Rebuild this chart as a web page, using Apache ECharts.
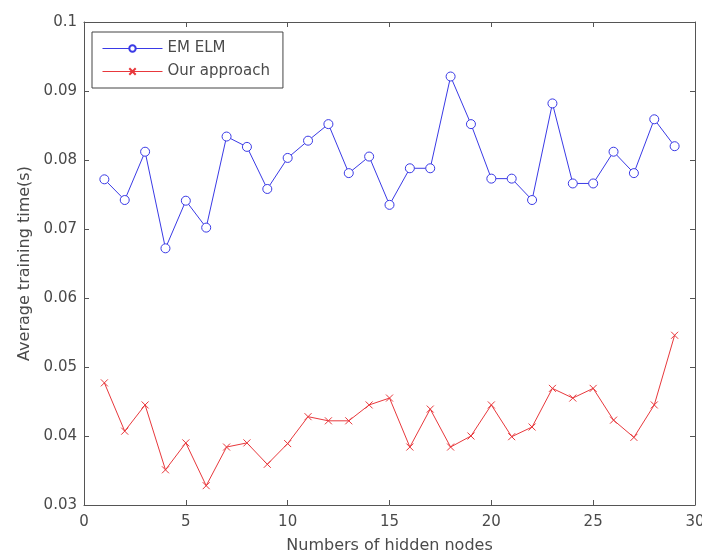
<!DOCTYPE html>
<html>
<head>
<meta charset="utf-8">
<script src="https://cdn.jsdelivr.net/npm/echarts@6/dist/echarts.min.js"></script>
<style>html,body{margin:0;padding:0;background:#fff}#c{width:702px;height:556px}</style>
</head>
<body>
<div id="c"></div>
<script>
const hiddenNodes = [1,2,3,4,5,6,7,8,9,10,11,12,13,14,15,16,17,18,19,20,21,22,23,24,25,26,27,28,29];
const emElm = [0.0772,0.0742,0.0812,0.0672,0.0741,0.0702,0.0834,0.0819,0.0758,0.0803,0.0828,0.0852,0.0781,0.0805,0.0735,0.0788,0.0788,0.0921,0.0852,0.0773,0.0773,0.0742,0.0882,0.0766,0.0766,0.0812,0.0781,0.0859,0.0820];
const ourApproach = [0.0477,0.0407,0.0445,0.0351,0.0390,0.0328,0.0384,0.0390,0.0359,0.0389,0.0428,0.0422,0.0422,0.0445,0.0455,0.0384,0.0439,0.0384,0.0400,0.0445,0.0399,0.0413,0.0469,0.0455,0.0469,0.0423,0.0398,0.0445,0.0546];
const seriesNames = ['EM ELM','Our approach'];
const xTitle = 'Numbers of hidden nodes';
const yTitle = 'Average training time(s)';

const FONT = 'DejaVu Sans';
const textColor = '#4a4a4a';
const blue = '#3a3ae6';
const red = '#e8383c';
const chart = echarts.init(document.getElementById('c'));
const axisLine = {show:true, onZero:false, lineStyle:{color:'#555', width:1}};
const tickIn = {show:true, inside:true, length:5, lineStyle:{color:'#555'}};
chart.setOption({
  animation:false,
  backgroundColor:'#fff',
  grid:{left:84, right:7, top:22, bottom:51, containLabel:false, outerBoundsMode:'none'},
  legend:{
    show:true, orient:'vertical', left:92, top:32,
    backgroundColor:'#fff', borderColor:'#444', borderWidth:1, borderRadius:0,
    padding:[9,13,9,10], itemGap:8, itemWidth:60, itemHeight:8,
    lineStyle:{width:1},
    textStyle:{fontFamily:FONT, fontSize:15, color:textColor},
    data:seriesNames
  },
  xAxis:[{
    type:'value', min:0, max:30, interval:5, position:'bottom',
    axisLine:axisLine, axisTick:tickIn, splitLine:{show:false},
    axisLabel:{fontFamily:FONT, fontSize:15, color:textColor, margin:10},
    name:xTitle, nameLocation:'middle', nameGap:33,
    nameTextStyle:{fontFamily:FONT, fontSize:16, color:textColor}
  },{
    type:'value', min:0, max:30, interval:5, position:'top',
    axisLine:axisLine, axisTick:tickIn, axisLabel:{show:false}, splitLine:{show:false}
  }],
  yAxis:[{
    type:'value', min:0.03, max:0.1, interval:0.01, position:'left',
    axisLine:axisLine, axisTick:tickIn, splitLine:{show:false},
    axisLabel:{fontFamily:FONT, fontSize:15, color:textColor, margin:7,
      formatter:v=>String(+v.toFixed(2))},
    name:yTitle, nameLocation:'middle', nameGap:51, nameRotate:90,
    nameTextStyle:{fontFamily:FONT, fontSize:16, color:textColor}
  },{
    type:'value', min:0.03, max:0.1, interval:0.01, position:'right',
    axisLine:axisLine, axisTick:tickIn, axisLabel:{show:false}, splitLine:{show:false}
  }],
  series:[{
    name:seriesNames[0], type:'line',
    data:hiddenNodes.map((x,i)=>[x,emElm[i]]),
    symbol:'circle', symbolSize:9, showSymbol:true,
    lineStyle:{color:blue, width:1},
    itemStyle:{color:'#fff', borderColor:blue, borderWidth:1}
  },{
    name:seriesNames[1], type:'line',
    data:hiddenNodes.map((x,i)=>[x,ourApproach[i]]),
    symbol:'path://M0,0L10,10M10,0L0,10', symbolSize:7, showSymbol:true,
    lineStyle:{color:red, width:1},
    itemStyle:{color:'none', borderColor:red, borderWidth:1}
  }]
});
</script>
</body>
</html>
